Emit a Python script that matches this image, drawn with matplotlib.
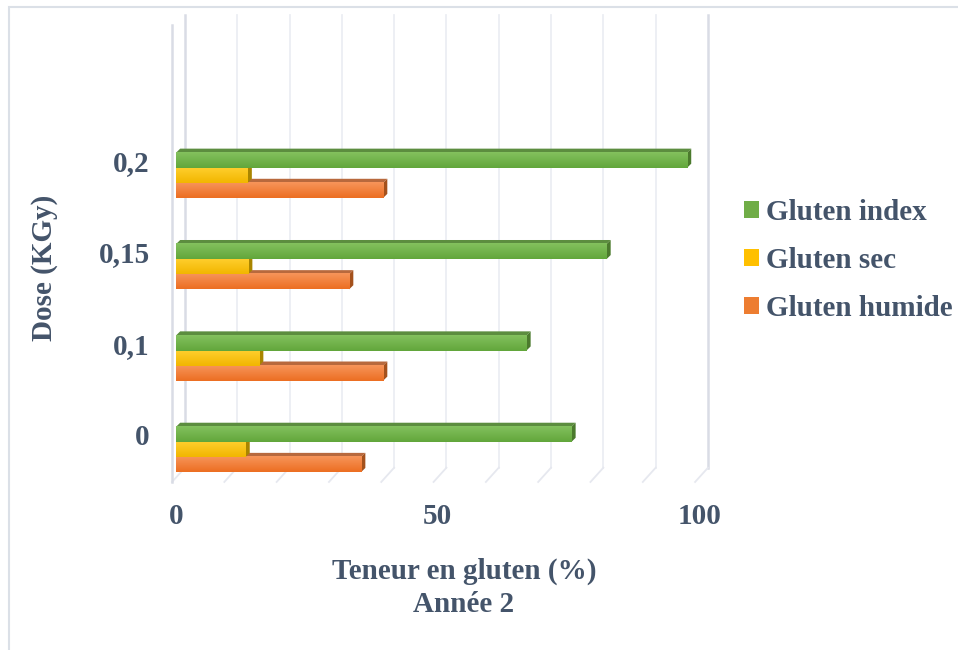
# horizontal bar chart of gluten content per irradiation dose, drawn with a
# fake 3D look (back wall, floor, bevelled bars) like the spreadsheet version

import numpy as np
import matplotlib.pyplot as plt
from matplotlib.colors import LinearSegmentedColormap
from matplotlib.patches import Polygon, Patch, Rectangle

DOSES = ["0", "0,1", "0,15", "0,2"]
GLUTEN_INDEX = [75.6, 67.0, 82.3, 97.7]
GLUTEN_SEC = [13.3, 15.9, 13.8, 13.7]
GLUTEN_HUMIDE = [35.4, 39.6, 33.1, 39.6]
X_TICKS = [0, 50, 100]
GRID_STEPS = np.arange(0, 101, 10)

TEXT_COLOUR = '#44546a'
FONT = 'Liberation Serif'
FS = 21

# bottom to top inside each group: (label, values, light, dark, top face, side face)
SERIES = [
    ("Gluten humide", GLUTEN_HUMIDE, '#f7955a', '#ec6e22', '#b8693d', '#a4511c'),
    ("Gluten sec", GLUTEN_SEC, '#ffcf2e', '#f2b600', '#c9a000', '#a98500'),
    ("Gluten index", GLUTEN_INDEX, '#83c15e', '#62a63b', '#5c8d3f', '#4b7a2d'),
]
LEGEND_ORDER = [2, 1, 0]
SWATCH = ['#ed7d31', '#ffc000', '#70ad47']

BAR_H = 0.165         # thickness of one bar (category spacing = 1)
DEPTH_X = 0.8         # bevel offset in x units
DEPTH_Y = 0.045       # bevel offset in category units

W, H = 958, 650
fig = plt.figure(figsize=(W / 100, H / 100), dpi=100)
ax = fig.add_axes([150 / W, 160 / H, 570 / W, 480 / H])
ax.axis('off')

# back wall and floor grid
BACK_X, FRONT_X = 1.7, -0.76
WALL_TOP, FLOOR_BACK, FLOOR_FRONT = 4.76, -0.2, -0.356
for v in GRID_STEPS:
    edge = v in (0, 100)
    col = '#d9dce5' if edge else '#eceef3'
    lw = 1.8 if edge else 1.3
    ax.plot([v + BACK_X, v + BACK_X], [FLOOR_BACK, WALL_TOP], color=col, lw=lw, zorder=1)
    ax.plot([v + BACK_X, v + FRONT_X], [FLOOR_BACK, FLOOR_FRONT], color='#e6e8ef', lw=1.3, zorder=1)
# side wall edge
ax.plot([FRONT_X, FRONT_X], [FLOOR_FRONT, 4.65], color='#d9dce5', lw=1.8, zorder=1)

grad = np.linspace(0, 1, 64).reshape(-1, 1)
for k, (label, values, light, dark, top_c, side_c) in enumerate(SERIES):
    cmap = LinearSegmentedColormap.from_list(label, [dark, light])
    for i, v in enumerate(values):
        y0 = i + (k - 1) * BAR_H - BAR_H / 2
        y1 = y0 + BAR_H
        z = 3 + k
        top = Polygon([(0, y1), (v, y1), (v + DEPTH_X, y1 + DEPTH_Y), (DEPTH_X, y1 + DEPTH_Y)],
                      closed=True, fc=top_c, ec='none', zorder=z)
        side = Polygon([(v, y0), (v, y1), (v + DEPTH_X, y1 + DEPTH_Y), (v + DEPTH_X, y0 + DEPTH_Y)],
                       closed=True, fc=side_c, ec='none', zorder=z)
        ax.add_patch(top)
        ax.add_patch(side)
        ax.imshow(grad, extent=(0, v, y0, y1), origin='lower', cmap=cmap,
                  aspect='auto', zorder=z, interpolation='bilinear')

ax.set_xlim(-4.97, 104.0)
ax.set_ylim(-0.444, 4.81)

# tick labels
for v in X_TICKS:
    ax.text(v, -0.73, str(v), ha='center', va='center', fontsize=FS,
            fontweight='bold', family=FONT, color=TEXT_COLOUR)
for i, d in enumerate(DOSES):
    ax.text(-5.0, i + 0.13, d, ha='right', va='center', fontsize=FS,
            fontweight='bold', family=FONT, color=TEXT_COLOUR)

fig.text(45 / W, 1 - 268 / H, "Dose (KGy)", rotation=90, ha='center', va='center',
         fontsize=FS, fontweight='bold', family=FONT, color=TEXT_COLOUR)
fig.text(464 / W, 1 - 571 / H, "Teneur en gluten (%)", ha='center', va='center',
         fontsize=FS, fontweight='bold', family=FONT, color=TEXT_COLOUR)
fig.text(464 / W, 1 - 604 / H, "Année 2", ha='center', va='center',
         fontsize=FS, fontweight='bold', family=FONT, color=TEXT_COLOUR)

handles = [Patch(facecolor=SWATCH[k], edgecolor='none', label=SERIES[k][0]) for k in LEGEND_ORDER]
fig.legend(handles=handles, loc='center left', bbox_to_anchor=(738 / W, 1 - 260 / H),
           frameon=False, handlelength=0.52, handleheight=0.52, handletextpad=0.25,
           labelspacing=0.72, borderpad=0.2, borderaxespad=0.0,
           prop={'family': FONT, 'weight': 'bold', 'size': FS},
           labelcolor=TEXT_COLOUR)

# chart frame
fig.add_artist(Rectangle((9 / W, -0.1), 1.2, 1 - 7 / H + 0.1, transform=fig.transFigure,
                         fill=False, ec='#dbe0e7', lw=1.5))

fig.savefig('out.png', dpi=100)
